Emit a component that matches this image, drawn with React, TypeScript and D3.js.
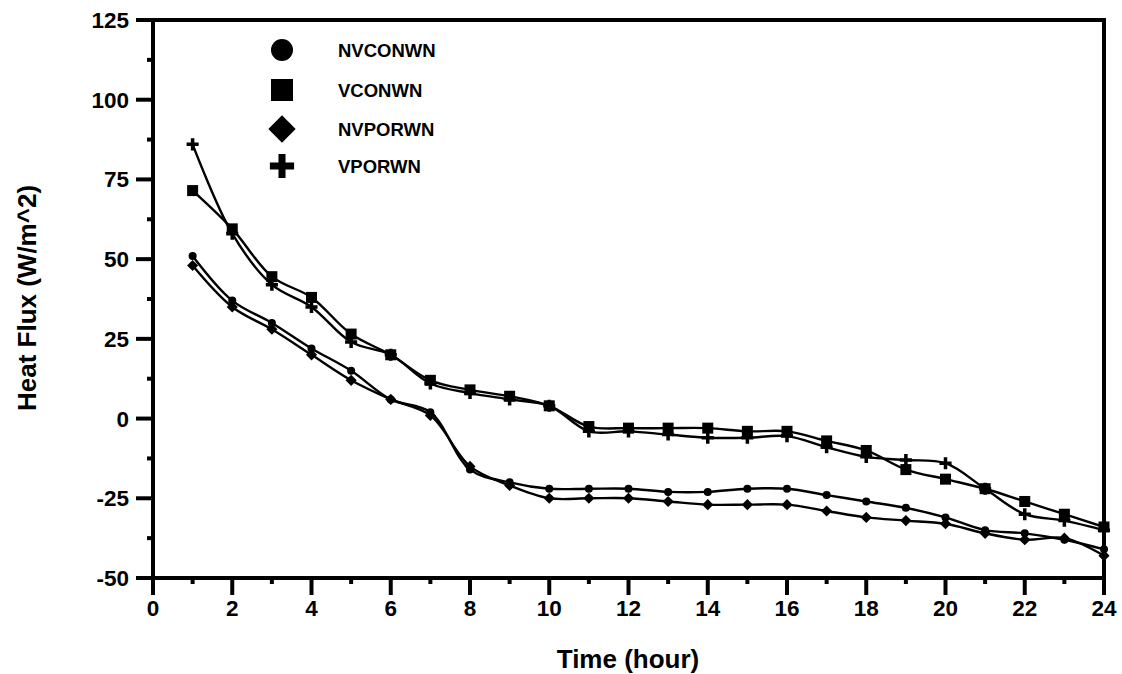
import React from "react";
import * as d3 from "d3";

const hours = [1,2,3,4,5,6,7,8,9,10,11,12,13,14,15,16,17,18,19,20,21,22,23,24];
const nvconwn = [51,37,30,22,15,6,2,-16,-20,-22,-22,-22,-23,-23,-22,-22,-24,-26,-28,-31,-35,-36,-38,-41];
const vconwn = [71.5,59.5,44.5,38,26.5,20,12,9,7,4,-2.5,-3,-3,-3,-4,-4,-7,-10,-16,-19,-22,-26,-30,-34];
const nvporwn = [48,35,28,20,12,6,1,-15,-21,-25,-25,-25,-26,-27,-27,-27,-29,-31,-32,-33,-36,-38,-37.5,-43];
const vporwn = [86,58,42,35,24,20,11,8,6,4,-4,-4,-5,-6,-6,-5.5,-9,-12,-13,-14,-22,-30,-32,-35];
const seriesNames = ["NVCONWN","VCONWN","NVPORWN","VPORWN"];
const xTicks = [0,2,4,6,8,10,12,14,16,18,20,22,24];
const yTicks = [-50,-25,0,25,50,75,100,125];

const W = 1122, H = 674;
const L = 153, R = 1104, T = 20, B = 578;
const FONT = "'Liberation Sans', Arial, sans-serif";

function Marker({ type, x, y, s }: { type: number; x: number; y: number; s: number }) {
  if (type === 0) return <circle cx={x} cy={y} r={s / 2} fill="#000" />;
  if (type === 1) return <rect x={x - s / 2} y={y - s / 2} width={s} height={s} fill="#000" />;
  if (type === 2) {
    const h = s * 0.62;
    return <path d={`M${x},${y - h}L${x + h},${y}L${x},${y + h}L${x - h},${y}Z`} fill="#000" />;
  }
  const a = s * 0.55, t = s * 0.16;
  return <path d={`M${x - t},${y - a}H${x + t}V${y - t}H${x + a}V${y + t}H${x + t}V${y + a}H${x - t}V${y + t}H${x - a}V${y - t}H${x - t}Z`} fill="#000" />;
}

export default function App() {
  const x = d3.scaleLinear().domain([0, 24]).range([L, R]);
  const y = d3.scaleLinear().domain([-50, 125]).range([B, T]);
  const all = [nvconwn, vconwn, nvporwn, vporwn];
  const line = d3.line<number>().x((_, i) => x(hours[i])).y((d) => y(d)).curve(d3.curveCatmullRom.alpha(0.5));
  const xMinor = d3.range(1, 24, 2);
  const yMinor = d3.range(-37.5, 125, 25);
  const legendY = [50, 90, 129, 166];
  return (
    <svg width={W} height={H} style={{ position: "absolute", left: 0, top: 0, background: "#fff" }}>
      <rect x={0} y={0} width={W} height={H} fill="#fff" />
      {all.map((s, k) => (
        <g key={k}>
          <path d={line(s) || ""} fill="none" stroke="#000" strokeWidth={2.4} />
          {s.map((v, i) => (
            <Marker key={i} type={k} x={x(hours[i])} y={y(v)} s={k === 0 ? 8 : k === 1 ? 11 : k === 2 ? 9 : 11} />
          ))}
        </g>
      ))}
      {/* frame */}
      <line x1={L - 17} y1={T} x2={R} y2={T} stroke="#000" strokeWidth={4} />
      <line x1={R} y1={T - 2} x2={R} y2={B + 17} stroke="#000" strokeWidth={4} />
      <line x1={L} y1={T - 2} x2={L} y2={B + 17} stroke="#000" strokeWidth={4} />
      <line x1={L - 17} y1={B} x2={R + 2} y2={B} stroke="#000" strokeWidth={4} />
      {xTicks.map((t) => (
        <g key={t}>
          <line x1={x(t)} y1={B} x2={x(t)} y2={B + 17} stroke="#000" strokeWidth={4} />
          <text x={x(t)} y={616} textAnchor="middle" fontFamily={FONT} fontWeight="bold" fontSize={22.5}>{t}</text>
        </g>
      ))}
      {xMinor.map((t) => (
        <line key={t} x1={x(t)} y1={B} x2={x(t)} y2={B + 6} stroke="#000" strokeWidth={4} />
      ))}
      {yTicks.map((t) => (
        <g key={t}>
          <line x1={L - 17} y1={y(t)} x2={L} y2={y(t)} stroke="#000" strokeWidth={4} />
          <text x={129} y={y(t) + 8} textAnchor="end" fontFamily={FONT} fontWeight="bold" fontSize={22.5}>{t}</text>
        </g>
      ))}
      {yMinor.map((t) => (
        <line key={t} x1={L - 6} y1={y(t)} x2={L} y2={y(t)} stroke="#000" strokeWidth={4} />
      ))}
      <text x={628} y={668} textAnchor="middle" fontFamily={FONT} fontWeight="bold" fontSize={26}>Time (hour)</text>
      <text transform="translate(36,298) rotate(-90)" textAnchor="middle" fontFamily={FONT} fontWeight="bold" fontSize={26}>Heat Flux (W/m^2)</text>
      {seriesNames.map((n, k) => (
        <g key={n}>
          <Marker type={k} x={282} y={legendY[k]} s={22} />
          <text x={338} y={legendY[k] + 7} fontFamily={FONT} fontWeight="bold" fontSize={18.5}>{n}</text>
        </g>
      ))}
    </svg>
  );
}
